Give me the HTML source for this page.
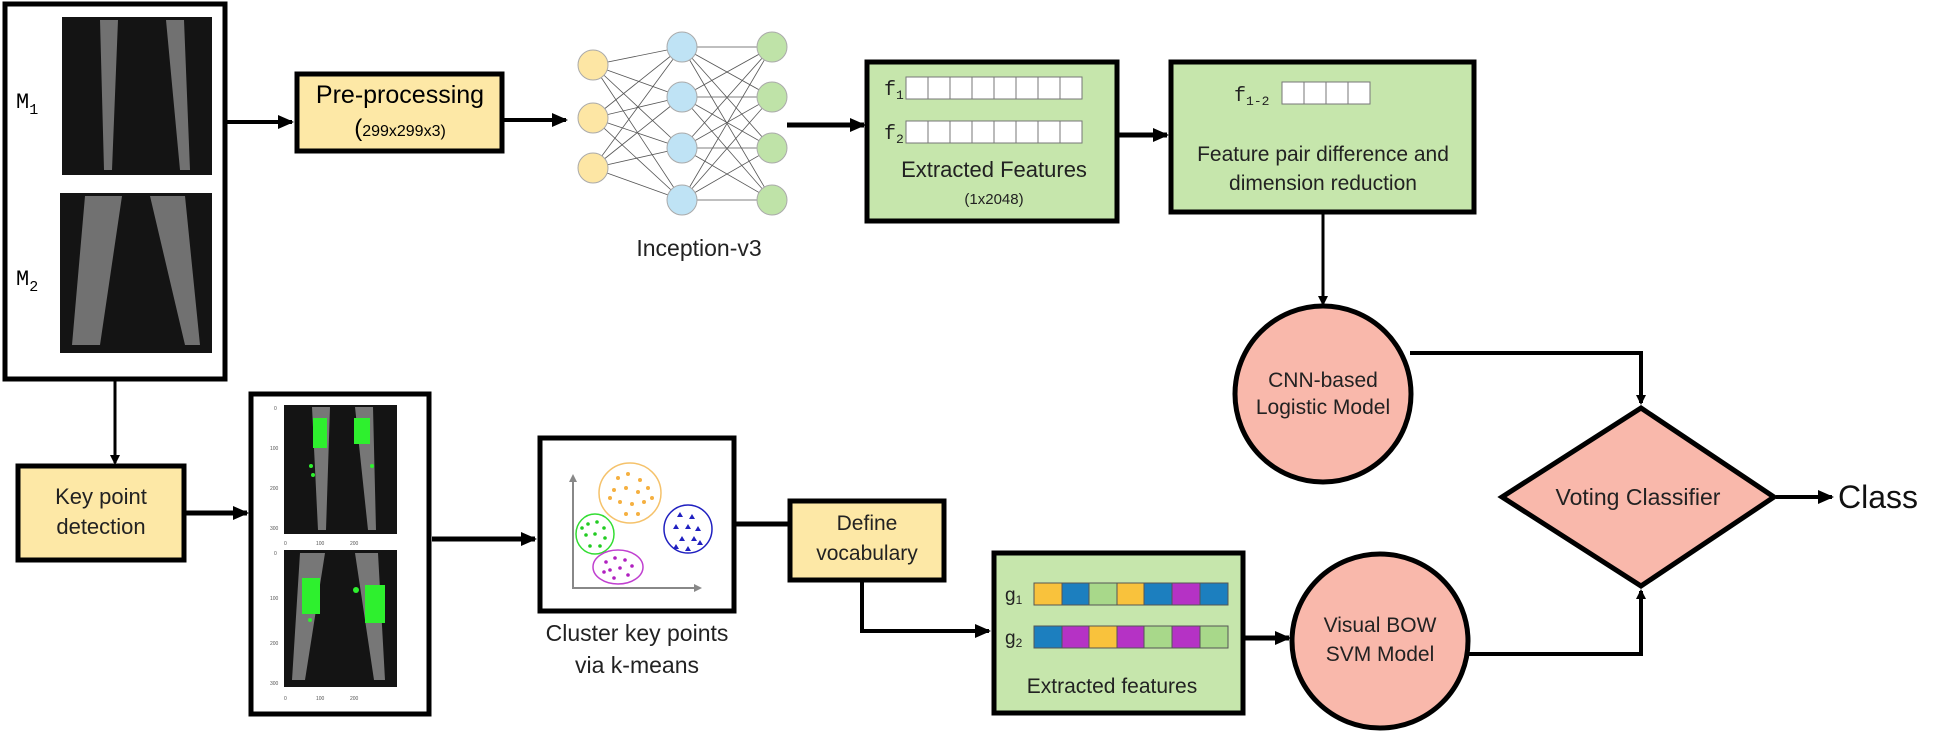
<!DOCTYPE html>
<html><head><meta charset="utf-8"><style>
html,body{margin:0;padding:0;background:#fff;}
svg{display:block;font-family:"Liberation Sans",sans-serif;}
</style></head><body>
<svg width="1946" height="732" viewBox="0 0 1946 732" xmlns="http://www.w3.org/2000/svg">
<defs>
<marker id="ah" markerWidth="10" markerHeight="10" refX="8" refY="5" orient="auto" markerUnits="userSpaceOnUse">
<path d="M0,0 L10,5 L0,10 z" fill="#000"/></marker>
<marker id="ah2" markerWidth="16" markerHeight="14" refX="14" refY="7" orient="auto" markerUnits="userSpaceOnUse">
<path d="M0,0 L16,7 L0,14 z" fill="#000"/></marker>
<linearGradient id="leg" x1="0" x2="0" y1="0" y2="1"><stop offset="0" stop-color="#999"/><stop offset="1" stop-color="#555"/></linearGradient>
</defs>

<!-- Left input box -->
<rect x="5" y="4" width="220" height="375" fill="#fff" stroke="#000" stroke-width="5"/>
<rect x="62" y="17" width="150" height="158" fill="#141414"/>
<path d="M100,20 L118,20 L112,170 L104,170 Z M166,20 L184,20 L190,170 L180,170 Z" fill="#888" opacity="0.8"/>
<rect x="60" y="193" width="152" height="160" fill="#141414"/>
<path d="M85,196 L122,196 L100,345 L72,345 Z M150,196 L185,196 L200,345 L185,345 Z" fill="#888" opacity="0.8"/>
<text x="16" y="108" font-size="22" font-family="Liberation Mono,monospace">M<tspan font-size="15" dy="6">1</tspan></text>
<text x="16" y="285" font-size="22" font-family="Liberation Mono,monospace">M<tspan font-size="15" dy="6">2</tspan></text>

<!-- arrow to preproc -->
<line x1="227" y1="122" x2="292" y2="122" stroke="#000" stroke-width="4" marker-end="url(#ah2)"/>
<rect x="297" y="74" width="205" height="77" fill="#fde8a6" stroke="#000" stroke-width="5"/>
<text x="400" y="103" font-size="25" text-anchor="middle">Pre-processing</text>
<text x="400" y="136" font-size="16" text-anchor="middle"><tspan font-size="24">(</tspan>299x299x3)</text>
<line x1="504" y1="120" x2="566" y2="120" stroke="#000" stroke-width="4" marker-end="url(#ah2)"/>

<!-- Neural net -->
<g stroke="#555" stroke-width="0.8">
<g id="l1">
<line x1="593" y1="65" x2="682" y2="47"/><line x1="593" y1="65" x2="682" y2="97"/><line x1="593" y1="65" x2="682" y2="148"/><line x1="593" y1="65" x2="682" y2="200"/>
<line x1="593" y1="118" x2="682" y2="47"/><line x1="593" y1="118" x2="682" y2="97"/><line x1="593" y1="118" x2="682" y2="148"/><line x1="593" y1="118" x2="682" y2="200"/>
<line x1="593" y1="168" x2="682" y2="47"/><line x1="593" y1="168" x2="682" y2="97"/><line x1="593" y1="168" x2="682" y2="148"/><line x1="593" y1="168" x2="682" y2="200"/>
</g>
<line x1="682" y1="47" x2="772" y2="47"/><line x1="682" y1="47" x2="772" y2="97"/><line x1="682" y1="47" x2="772" y2="148"/><line x1="682" y1="47" x2="772" y2="200"/>
<line x1="682" y1="97" x2="772" y2="47"/><line x1="682" y1="97" x2="772" y2="97"/><line x1="682" y1="97" x2="772" y2="148"/><line x1="682" y1="97" x2="772" y2="200"/>
<line x1="682" y1="148" x2="772" y2="47"/><line x1="682" y1="148" x2="772" y2="97"/><line x1="682" y1="148" x2="772" y2="148"/><line x1="682" y1="148" x2="772" y2="200"/>
<line x1="682" y1="200" x2="772" y2="47"/><line x1="682" y1="200" x2="772" y2="97"/><line x1="682" y1="200" x2="772" y2="148"/><line x1="682" y1="200" x2="772" y2="200"/>
</g>
<g stroke="#aaa" stroke-width="1">
<circle cx="593" cy="65" r="15" fill="#fde6a4"/><circle cx="593" cy="118" r="15" fill="#fde6a4"/><circle cx="593" cy="168" r="15" fill="#fde6a4"/>
<circle cx="682" cy="47" r="15" fill="#bfe3f5"/><circle cx="682" cy="97" r="15" fill="#bfe3f5"/><circle cx="682" cy="148" r="15" fill="#bfe3f5"/><circle cx="682" cy="200" r="15" fill="#bfe3f5"/>
<circle cx="772" cy="47" r="15" fill="#bfe3a8"/><circle cx="772" cy="97" r="15" fill="#bfe3a8"/><circle cx="772" cy="148" r="15" fill="#bfe3a8"/><circle cx="772" cy="200" r="15" fill="#bfe3a8"/>
</g>
<text x="699" y="256" font-size="23" text-anchor="middle" fill="#222">Inception-v3</text>

<line x1="787" y1="125" x2="864" y2="125" stroke="#000" stroke-width="5" marker-end="url(#ah2)"/>

<!-- Extracted features top -->
<rect x="867" y="62" width="250" height="159" fill="#c6e6ac" stroke="#000" stroke-width="5"/>
<text x="884" y="95" font-size="20" font-family="Liberation Mono,monospace" fill="#222">f<tspan font-size="13" dy="4">1</tspan></text>
<text x="884" y="139" font-size="20" font-family="Liberation Mono,monospace" fill="#222">f<tspan font-size="13" dy="4">2</tspan></text>
<g fill="#fff" stroke="#777" stroke-width="1">
<rect x="906" y="77" width="22" height="22"/><rect x="928" y="77" width="22" height="22"/><rect x="950" y="77" width="22" height="22"/><rect x="972" y="77" width="22" height="22"/><rect x="994" y="77" width="22" height="22"/><rect x="1016" y="77" width="22" height="22"/><rect x="1038" y="77" width="22" height="22"/><rect x="1060" y="77" width="22" height="22"/>
<rect x="906" y="121" width="22" height="22"/><rect x="928" y="121" width="22" height="22"/><rect x="950" y="121" width="22" height="22"/><rect x="972" y="121" width="22" height="22"/><rect x="994" y="121" width="22" height="22"/><rect x="1016" y="121" width="22" height="22"/><rect x="1038" y="121" width="22" height="22"/><rect x="1060" y="121" width="22" height="22"/>
</g>
<text x="994" y="177" font-size="22" text-anchor="middle" fill="#222">Extracted Features</text>
<text x="994" y="204" font-size="15" text-anchor="middle" fill="#222">(1x2048)</text>

<line x1="1119" y1="135" x2="1167" y2="135" stroke="#000" stroke-width="5" marker-end="url(#ah2)"/>

<!-- Diff box -->
<rect x="1171" y="62" width="303" height="150" fill="#c6e6ac" stroke="#000" stroke-width="5"/>
<text x="1234" y="101" font-size="20" font-family="Liberation Mono,monospace" fill="#222">f<tspan font-size="13" dy="4">1-2</tspan></text>
<g fill="#fff" stroke="#777" stroke-width="1">
<rect x="1282" y="82" width="22" height="22"/><rect x="1304" y="82" width="22" height="22"/><rect x="1326" y="82" width="22" height="22"/><rect x="1348" y="82" width="22" height="22"/>
</g>
<text x="1323" y="161" font-size="21" text-anchor="middle" fill="#222">Feature pair difference and</text>
<text x="1323" y="190" font-size="21" text-anchor="middle" fill="#222">dimension reduction</text>

<line x1="1323" y1="213" x2="1323" y2="304" stroke="#000" stroke-width="3" marker-end="url(#ah)"/>

<!-- CNN circle -->
<ellipse cx="1323" cy="394" rx="88" ry="88" fill="#f9b8ab" stroke="#000" stroke-width="5"/>
<text x="1323" y="387" font-size="21" text-anchor="middle" fill="#222">CNN-based</text>
<text x="1323" y="414" font-size="21" text-anchor="middle" fill="#222">Logistic Model</text>
<polyline points="1410,353 1641,353 1641,403" fill="none" stroke="#000" stroke-width="4" marker-end="url(#ah)"/>

<!-- Diamond -->
<polygon points="1641,408 1774,497 1641,586 1502,497" fill="#f9b8ab" stroke="#000" stroke-width="5"/>
<text x="1638" y="505" font-size="23" text-anchor="middle" fill="#222">Voting Classifier</text>
<line x1="1776" y1="497" x2="1832" y2="497" stroke="#000" stroke-width="4" marker-end="url(#ah2)"/>
<text x="1838" y="508" font-size="32" fill="#111">Class</text>

<!-- BOW circle -->
<ellipse cx="1380" cy="641" rx="88" ry="87" fill="#f9b8ab" stroke="#000" stroke-width="5"/>
<text x="1380" y="632" font-size="21" text-anchor="middle" fill="#222">Visual BOW</text>
<text x="1380" y="661" font-size="21" text-anchor="middle" fill="#222">SVM Model</text>
<polyline points="1468,654 1641,654 1641,591" fill="none" stroke="#000" stroke-width="4" marker-end="url(#ah)"/>

<!-- Extracted features bottom -->
<rect x="994" y="553" width="249" height="160" fill="#c6e6ac" stroke="#000" stroke-width="5"/>
<text x="1005" y="601" font-size="19" fill="#222">g<tspan font-size="12" dy="3">1</tspan></text>
<text x="1005" y="644" font-size="19" fill="#222">g<tspan font-size="12" dy="3">2</tspan></text>
<g stroke="#555" stroke-width="1">
<rect x="1034" y="583" width="28" height="22" fill="#f9c23c"/><rect x="1062" y="583" width="27" height="22" fill="#1c7fbf"/><rect x="1089" y="583" width="28" height="22" fill="#a8d88a"/><rect x="1117" y="583" width="27" height="22" fill="#f9c23c"/><rect x="1144" y="583" width="28" height="22" fill="#1c7fbf"/><rect x="1172" y="583" width="28" height="22" fill="#b532c5"/><rect x="1200" y="583" width="28" height="22" fill="#1c7fbf"/>
<rect x="1034" y="626" width="28" height="22" fill="#1c7fbf"/><rect x="1062" y="626" width="27" height="22" fill="#b532c5"/><rect x="1089" y="626" width="28" height="22" fill="#f9c23c"/><rect x="1117" y="626" width="27" height="22" fill="#b532c5"/><rect x="1144" y="626" width="28" height="22" fill="#a8d88a"/><rect x="1172" y="626" width="28" height="22" fill="#b532c5"/><rect x="1200" y="626" width="28" height="22" fill="#a8d88a"/>
</g>
<text x="1112" y="693" font-size="21" text-anchor="middle" fill="#222">Extracted features</text>
<line x1="1245" y1="638" x2="1289" y2="638" stroke="#000" stroke-width="5" marker-end="url(#ah2)"/>

<!-- Bottom left flow -->
<line x1="115" y1="381" x2="115" y2="463" stroke="#000" stroke-width="3" marker-end="url(#ah)"/>
<rect x="18" y="466" width="166" height="94" fill="#fde8a6" stroke="#000" stroke-width="5"/>
<text x="101" y="504" font-size="22" text-anchor="middle" fill="#222">Key point</text>
<text x="101" y="534" font-size="22" text-anchor="middle" fill="#222">detection</text>
<line x1="186" y1="513" x2="247" y2="513" stroke="#000" stroke-width="5" marker-end="url(#ah2)"/>

<rect x="251" y="394" width="178" height="320" fill="#fff" stroke="#000" stroke-width="5"/>
<rect x="284" y="405" width="113" height="129" fill="#141414"/>
<path d="M312,407 L330,407 L326,530 L318,530 Z M355,407 L373,407 L376,530 L368,530 Z" fill="#888" opacity="0.85"/>
<g fill="#2ef02e"><rect x="313" y="418" width="14" height="30"/><rect x="354" y="418" width="16" height="26"/><circle cx="311" cy="466" r="2"/><circle cx="313" cy="475" r="2"/><circle cx="372" cy="466" r="2"/></g>
<rect x="284" y="550" width="113" height="137" fill="#141414"/>
<path d="M300,553 L325,553 L305,680 L292,680 Z M355,553 L378,553 L385,680 L374,680 Z" fill="#888" opacity="0.85"/>
<g fill="#2ef02e"><rect x="302" y="578" width="18" height="36"/><rect x="365" y="585" width="20" height="38"/><circle cx="356" cy="590" r="3"/><circle cx="310" cy="620" r="2"/></g>
<g font-size="5" fill="#555"><text x="274" y="410">0</text><text x="270" y="450">100</text><text x="270" y="490">200</text><text x="270" y="530">300</text><text x="284" y="545">0</text><text x="316" y="545">100</text><text x="350" y="545">200</text>
<text x="274" y="555">0</text><text x="270" y="600">100</text><text x="270" y="645">200</text><text x="270" y="685">300</text><text x="284" y="700">0</text><text x="316" y="700">100</text><text x="350" y="700">200</text></g>

<line x1="432" y1="539" x2="535" y2="539" stroke="#000" stroke-width="5" marker-end="url(#ah2)"/>

<rect x="540" y="438" width="194" height="173" fill="#fff" stroke="#000" stroke-width="5"/>
<polyline points="573,480 573,588 696,588" fill="none" stroke="#888" stroke-width="2"/>
<path d="M569,482 L573,474 L577,482 Z M694,584 L702,588 L694,592 Z" fill="#888"/>
<ellipse cx="630" cy="493" rx="31" ry="30" fill="none" stroke="#f5c26b" stroke-width="1.5"/>
<ellipse cx="595" cy="534" rx="19" ry="20" fill="none" stroke="#33dd33" stroke-width="1.5"/>
<ellipse cx="618" cy="567" rx="25" ry="17" fill="none" stroke="#c040d0" stroke-width="1.5"/>
<ellipse cx="688" cy="529" rx="24" ry="24" fill="none" stroke="#2020c0" stroke-width="1.5"/>
<g fill="#f5b040"><circle cx="618" cy="478" r="2"/><circle cx="628" cy="474" r="2"/><circle cx="640" cy="480" r="2"/><circle cx="614" cy="490" r="2"/><circle cx="626" cy="488" r="2"/><circle cx="638" cy="492" r="2"/><circle cx="648" cy="488" r="2"/><circle cx="620" cy="502" r="2"/><circle cx="632" cy="504" r="2"/><circle cx="644" cy="502" r="2"/><circle cx="626" cy="514" r="2"/><circle cx="638" cy="514" r="2"/><circle cx="652" cy="498" r="2"/><circle cx="610" cy="498" r="2"/></g>
<g fill="#22cc22"><circle cx="588" cy="524" r="1.8"/><circle cx="597" cy="522" r="1.8"/><circle cx="604" cy="528" r="1.8"/><circle cx="586" cy="535" r="1.8"/><circle cx="595" cy="534" r="1.8"/><circle cx="605" cy="538" r="1.8"/><circle cx="590" cy="546" r="1.8"/><circle cx="600" cy="546" r="1.8"/><circle cx="582" cy="528" r="1.8"/></g>
<g fill="#b020c0"><circle cx="606" cy="562" r="1.8"/><circle cx="615" cy="558" r="1.8"/><circle cx="625" cy="560" r="1.8"/><circle cx="632" cy="566" r="1.8"/><circle cx="610" cy="570" r="1.8"/><circle cx="620" cy="568" r="1.8"/><circle cx="628" cy="575" r="1.8"/><circle cx="614" cy="578" r="1.8"/><circle cx="604" cy="572" r="1.8"/></g>
<g fill="#2020c0"><path d="M680,512 l3,5 h-6z M692,514 l3,5 h-6z M676,524 l3,5 h-6z M688,524 l3,5 h-6z M698,526 l3,5 h-6z M682,536 l3,5 h-6z M694,536 l3,5 h-6z M676,544 l3,5 h-6z M688,546 l3,5 h-6z M700,540 l3,5 h-6z"/></g>
<text x="637" y="641" font-size="23" text-anchor="middle" fill="#222">Cluster key points</text>
<text x="637" y="673" font-size="23" text-anchor="middle" fill="#222">via k-means</text>

<line x1="735" y1="524" x2="789" y2="524" stroke="#000" stroke-width="5"/>
<rect x="790" y="501" width="154" height="79" fill="#fde8a6" stroke="#000" stroke-width="5"/>
<text x="867" y="530" font-size="21" text-anchor="middle" fill="#222">Define</text>
<text x="867" y="560" font-size="21" text-anchor="middle" fill="#222">vocabulary</text>
<polyline points="862,582 862,631 989,631" fill="none" stroke="#000" stroke-width="4" marker-end="url(#ah2)"/>
</svg>
</body></html>
